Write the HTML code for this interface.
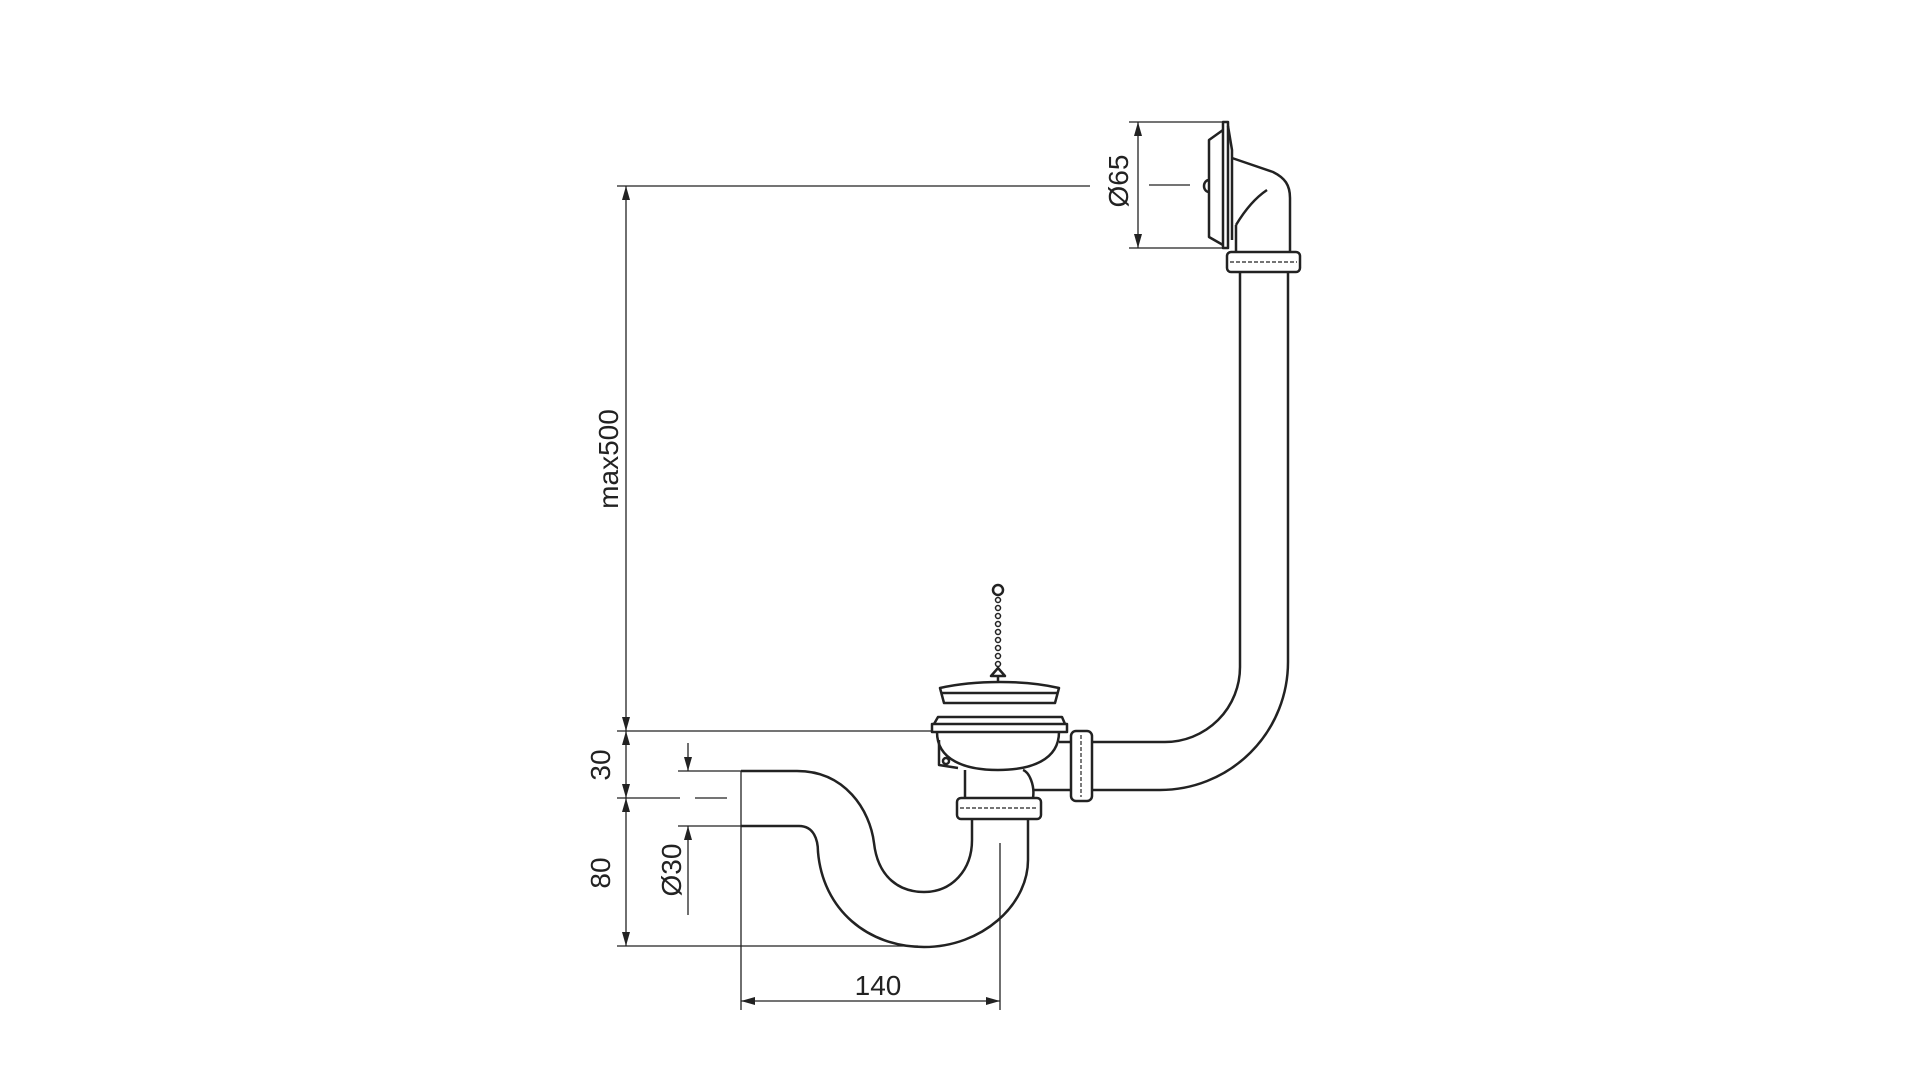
<!DOCTYPE html>
<html><head><meta charset="utf-8"><style>
html,body{margin:0;padding:0;background:#fff}
svg{display:block}
text{font-family:"Liberation Sans",sans-serif;fill:#222}
</style></head><body>
<svg width="1920" height="1080" viewBox="0 0 1920 1080" xmlns="http://www.w3.org/2000/svg">
<defs>
<marker id="a" viewBox="0 0 14 10" refX="14" refY="5" markerWidth="14" markerHeight="10" markerUnits="userSpaceOnUse" orient="auto-start-reverse"><path d="M0,1 L14,5 L0,9 z" fill="#222"/></marker>
</defs>
<g stroke="#222" fill="none" stroke-width="1.3">
<line x1="617" y1="186" x2="1090" y2="186"/>
<line x1="626" y1="186" x2="626" y2="731" marker-start="url(#a)" marker-end="url(#a)"/>
<line x1="617" y1="731" x2="931" y2="731"/>
<line x1="626" y1="731" x2="626" y2="798" marker-start="url(#a)" marker-end="url(#a)"/>
<line x1="617" y1="798" x2="680" y2="798"/>
<line x1="695" y1="798" x2="727" y2="798"/>
<line x1="626" y1="798" x2="626" y2="946" marker-start="url(#a)" marker-end="url(#a)"/>
<line x1="617" y1="946" x2="918" y2="946"/>
<line x1="688" y1="743" x2="688" y2="771" marker-end="url(#a)"/>
<line x1="688" y1="915" x2="688" y2="826" marker-end="url(#a)"/>
<line x1="678" y1="771" x2="741" y2="771"/>
<line x1="678" y1="826" x2="741" y2="826"/>
<line x1="741" y1="771" x2="741" y2="1010"/>
<line x1="1000" y1="843" x2="1000" y2="1010"/>
<line x1="741" y1="1001" x2="1000" y2="1001" marker-start="url(#a)" marker-end="url(#a)"/>
<line x1="1129" y1="122" x2="1225" y2="122"/>
<line x1="1129" y1="248" x2="1225" y2="248"/>
<line x1="1138" y1="122" x2="1138" y2="248" marker-start="url(#a)" marker-end="url(#a)"/>
<line x1="1149" y1="185" x2="1190" y2="185"/>
</g>
<g stroke="#222" fill="none" stroke-width="2.5" stroke-linejoin="round">
<!-- trap -->
<path d="M741,771 L797,771 C845,771 870,810 874,843 C878,878 900,892 924,892 C952,892 972,870 972,840 L972,820"/>
<path d="M741,826 L799,826 C814,826 818,840 818,852 C823,910 868,947 924,947 C982,947 1028,905 1028,860 L1028,820"/>
<rect x="957" y="798" width="84" height="21" rx="4"/>
<line x1="960" y1="808" x2="1038" y2="808" stroke-width="1.2" stroke-dasharray="4 2"/>
<path d="M965,798 L965,770 M1033,798 C1035,785 1029,772 1023,770"/>
<path d="M937,732 C937,760 965,770 998,770 C1031,770 1059,760 1059,732"/>
<path d="M939,740 L939,765 L958,768"/>
<circle cx="946" cy="761" r="3"/>
<rect x="932" y="724" width="135" height="8"/>
<path d="M934,724 L938,717 L1062,717 L1065,724"/>
<path d="M940,688 C975,680 1025,680 1059,688 L1055,703 L944,703 Z"/>
<line x1="942" y1="693" x2="1057" y2="693"/>
<path d="M991,676 L998,668 L1005,676 Z"/>
<line x1="998" y1="676" x2="998" y2="682"/>
<circle cx="998" cy="590" r="5"/>
</g>
<g stroke="#222" fill="none" stroke-width="1.5">
<circle cx="998" cy="600" r="2.5"/><circle cx="998" cy="608" r="2.5"/><circle cx="998" cy="616" r="2.5"/><circle cx="998" cy="624" r="2.5"/><circle cx="998" cy="632" r="2.5"/><circle cx="998" cy="640" r="2.5"/><circle cx="998" cy="648" r="2.5"/><circle cx="998" cy="656" r="2.5"/><circle cx="998" cy="664" r="2.5"/>
</g>
<g stroke="#222" fill="none" stroke-width="2.5" stroke-linejoin="round">
<line x1="1059" y1="742" x2="1071" y2="742"/>
<line x1="1033" y1="790" x2="1071" y2="790"/>
<rect x="1071" y="731" width="21" height="70" rx="5"/>
<line x1="1081" y1="735" x2="1081" y2="797" stroke-width="1.2" stroke-dasharray="4 2"/>
<path d="M1092,742 L1165,742 A75,75 0 0 0 1240,667 L1240,272"/>
<path d="M1092,790 L1160,790 A128,128 0 0 0 1288,662 L1288,272"/>
<rect x="1227" y="252" width="73" height="20" rx="4"/>
<line x1="1230" y1="262" x2="1297" y2="262" stroke-width="1.2" stroke-dasharray="4 2"/>
<path d="M1232,158 L1273,172 C1285,178 1290,185 1290,198 L1290,252"/>
<path d="M1236,225 C1245,210 1255,198 1267,190"/>
<path d="M1236,225 L1236,252"/>
<rect x="1223" y="122" width="5" height="126"/>
<path d="M1223,130 L1209,140 L1209,237 L1223,245"/>
<path d="M1228,126 L1232,150 L1232,240"/>
<path d="M1209,180 A5,6 0 0 0 1209,192"/>
</g>
<text x="878" y="995" font-size="28" text-anchor="middle">140</text>
<text transform="translate(610,765) rotate(-90)" font-size="28" text-anchor="middle">30</text>
<text transform="translate(610,873) rotate(-90)" font-size="28" text-anchor="middle">80</text>
<text transform="translate(681,870) rotate(-90)" font-size="28" text-anchor="middle">Ø30</text>
<text transform="translate(618,459) rotate(-90)" font-size="28" text-anchor="middle">max500</text>
<text transform="translate(1128,181) rotate(-90)" font-size="28" text-anchor="middle">Ø65</text>
</svg>
</body></html>
